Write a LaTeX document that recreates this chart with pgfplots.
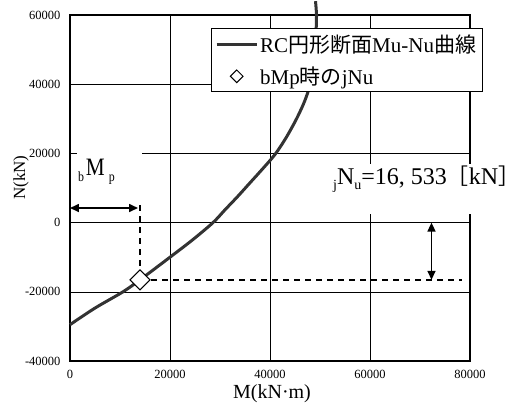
\documentclass[border=0pt]{standalone}
\usepackage{fontspec}
\setmainfont{Liberation Serif}
\newfontfamily\cjk{Noto Sans CJK JP}
\newfontfamily\anno[FakeStretch=0.85]{Liberation Serif}
\usepackage{pgfplots}
\pgfplotsset{compat=1.18}
\usetikzlibrary{arrows.meta}
\definecolor{curvegray}{HTML}{333333}
\begin{document}
\begin{tikzpicture}
\useasboundingbox (-70pt,-44pt) rectangle (451pt,361pt);
\begin{axis}[
 scale only axis, width=400pt, height=346pt,
 xmin=0, xmax=80000, ymin=-40000, ymax=60000,
 xtick={0,20000,40000,60000,80000},
 ytick={-40000,-20000,0,20000,40000,60000},
 grid=major, major grid style={black, line width=0.6pt},
 major tick length=0pt,
 axis line style={line width=1.5pt},
 clip=false,
 scaled ticks=false,
 /pgf/number format/assume math mode=true,
 /pgf/number format/1000 sep={},
 tick label style={font=\fontsize{12.5}{14}\selectfont},
 xticklabel style={yshift=-6pt},
 yticklabel style={xshift=-6pt},
 legend cell align=left,
 legend style={at={(rel axis cs:0.352,0.962)}, anchor=north west,
   draw=black, line width=0.8pt, fill=white,
   font=\fontsize{21}{24}\selectfont,
   inner xsep=4pt, inner ysep=4pt, row sep=9pt},
]
% annotation backgrounds and lines
\fill[white] (axis cs:1400,7700) rectangle (axis cs:14400,21560);
\fill[white] (axis cs:51600,2500) rectangle (axis cs:90200,16900);
\draw[black, line width=1.5pt, dash pattern=on 6pt off 5pt] (axis cs:14000,5000) -- (axis cs:14000,-16533);
\draw[black, line width=1.5pt, dash pattern=on 6pt off 5pt] (axis cs:14000,-16533) -- (axis cs:78300,-16533);
\draw[black, line width=1.6pt, {Triangle[length=9pt,width=8pt]}-{Triangle[length=9pt,width=8pt]}] (axis cs:0,4220) -- (axis cs:13600,4220);
\draw[black, line width=1.6pt, {Triangle[length=9pt,width=8pt]}-{Triangle[length=9pt,width=8pt]}] (axis cs:72300,0) -- (axis cs:72300,-16533);
\node[anchor=base west, inner sep=0pt] at (axis cs:1600,13756)
  {\anno\raisebox{-6pt}{\fontsize{14}{14}\selectfont b}\,\fontsize{25}{25}\selectfont M\,\raisebox{-6pt}{\fontsize{14}{14}\selectfont p}};
\node[anchor=base west, inner sep=0pt] at (axis cs:52600,10870)
  {\raisebox{-5pt}{\fontsize{14}{14}\selectfont j}\fontsize{24}{24}\selectfont N\raisebox{-5pt}{\fontsize{14}{14}\selectfont u}=16, 533{\cjk\fontsize{22}{22}\selectfont ［}kN{\cjk\fontsize{22}{22}\selectfont ］}};
% axis labels
\node[font=\fontsize{20}{22}\selectfont, anchor=base] at (rel axis cs:0.505,-0.107) {M(kN·m)};
\node[font=\fontsize{17}{19}\selectfont, rotate=90] at (rel axis cs:-0.1225,0.53) {N(kN)};
% data
\addplot[color=curvegray, line width=3pt, smooth,
  legend image code/.code={\draw[curvegray, line width=3pt] (0pt,0pt) -- (40pt,0pt);}]
 coordinates {
 (0,-29500) (5000,-24700) (10600,-20000) (14000,-16533) (20000,-10000)
 (24500,-5000) (28600,0) (31000,3700) (33500,7500) (36000,11500) (38500,15500)
 (41000,19700) (43200,24500) (45200,29700) (46700,34300) (47700,38300)
 (48400,43000) (48900,49000) (49200,55000) (49300,60000) (49100,64000)
 };
\addlegendentry{RC{\cjk 円形断面}Mu-Nu{\cjk 曲線}}
\addplot[only marks, mark=square*, mark size=7.07pt,
  mark options={rotate=45, fill=white, draw=black, line width=1.1pt},
  legend image code/.code={\draw[black, fill=white, line width=1pt] (20pt,-6.3pt) -- (26.3pt,0pt) -- (20pt,6.3pt) -- (13.7pt,0pt) -- cycle;}]
 coordinates {(14000,-16533)};
\addlegendentry{bMp{\cjk 時の}jNu}
\end{axis}
\end{tikzpicture}
\end{document}
